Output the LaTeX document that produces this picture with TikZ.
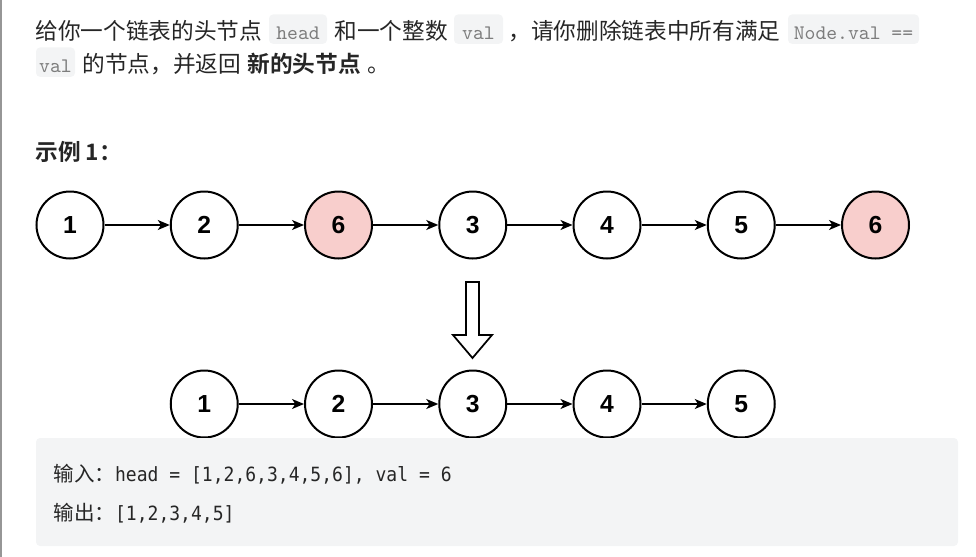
\documentclass[tikz,border=0pt]{standalone}
\usepackage{fontspec}
\setmonofont{DejaVu Sans Mono}[FakeStretch=0.92]
\setsansfont{Liberation Sans}
\newfontfamily\cjk{Noto Sans CJK SC}[BoldFont={Noto Sans CJK SC Bold}]
\newfontfamily\chipfont{lmmono10-regular.otf}
\usetikzlibrary{arrows.meta}

\definecolor{txtgray}{RGB}{38,38,38}
\definecolor{chipbg}{RGB}{243,244,245}
\definecolor{chiptxt}{RGB}{125,125,125}
\definecolor{nodered}{RGB}{248,206,204}
\definecolor{leftbar}{RGB}{150,150,150}

\tikzset{every picture/.style={line width=0.75pt}}
\tikzset{
  listnode/.style={circle, draw=black, line width=1.5pt, minimum size=50.25pt, inner sep=0pt, fill=white,
    font=\sffamily\bfseries\fontsize{18.5pt}{20pt}\selectfont},
  delnode/.style={listnode, fill=nodered},
  link/.style={-{Stealth[length=9pt,width=7.5pt,inset=2.5pt]}, line width=1.1pt},
  chip/.style={anchor=base, fill=chipbg, rounded corners=3pt, inner xsep=0pt, inner ysep=0pt,
    text height=18.4pt, text depth=3.6pt, text=chiptxt, font=\chipfont\fontsize{15.5pt}{17pt}\selectfont},
  para/.style={anchor=base west, inner sep=0pt, text=txtgray, font=\cjk\fontsize{17pt}{20pt}\selectfont},
  boxtxt/.style={anchor=base west, inner sep=0pt, text=txtgray, font=\ttfamily\fontsize{14.7pt}{16pt}\selectfont},
}
\newcommand{\boxcjk}[1]{{\cjk\fontsize{15.4pt}{16pt}\selectfont #1}}

\begin{document}
\begin{tikzpicture}[x=0.75pt,y=0.75pt,yscale=-1]
\useasboundingbox (0,0) rectangle (976,557);

%Straight Lines: left border
\draw [leftbar, line width=1.5pt] (1,0) -- (1,557);

% Text Node: first line
\node [para] (p1a) at (35,39) {给你一个链表的头节点};
\node [chip, minimum width=43.5pt] (c1) at (298,39) {head};
\node [para] (p1b) at (334,39) {和一个整数};
\node [chip, minimum width=36.75pt] (c2) at (478.5,39) {val};
\node [para] (p1c) at (508,39) {，请你删除链表中所有满足};
\node [chip, minimum width=98.25pt] (c3) at (853.5,39) {Node.val ==};

% Text Node: second line
\node [chip, minimum width=29.25pt] (c4) at (55.5,72) {val};
\node [para] (p2a) at (82,72) {的节点，并返回};
\node [para, font=\cjk\bfseries\fontsize{17pt}{20pt}\selectfont] (p2b) at (247,72) {新的头节点};
\node [para] (p2c) at (367,72) {。};

% Text Node: example title
\node [para, font=\cjk\bfseries\fontsize{17pt}{20pt}\selectfont] (title) at (35,160.5) {示例 1：};

%Shape: Circle, input list
\node [listnode] (a1) at (70,225) {1};
\node [listnode] (a2) at (204.25,225) {2};
\node [delnode]  (a3) at (338.5,225) {6};
\node [listnode] (a4) at (472.75,225) {3};
\node [listnode] (a5) at (607,225) {4};
\node [listnode] (a6) at (741.25,225) {5};
\node [delnode]  (a7) at (875.5,225) {6};

%Straight Lines: input links
\draw [link] (a1) -- (a2);
\draw [link] (a2) -- (a3);
\draw [link] (a3) -- (a4);
\draw [link] (a4) -- (a5);
\draw [link] (a5) -- (a6);
\draw [link] (a6) -- (a7);

%Shape: hollow down arrow
\draw [line width=1.3pt, line join=miter] (466,282) -- (479,282) -- (479,335) -- (492,335) -- (472.5,358) -- (453,335) -- (466,335) -- cycle;

%Shape: Circle, output list
\node [listnode] (b1) at (204.25,404) {1};
\node [listnode] (b2) at (338.5,404) {2};
\node [listnode] (b3) at (472.75,404) {3};
\node [listnode] (b4) at (607,404) {4};
\node [listnode] (b5) at (741.25,404) {5};

%Straight Lines: output links
\draw [link] (b1) -- (b2);
\draw [link] (b2) -- (b3);
\draw [link] (b3) -- (b4);
\draw [link] (b4) -- (b5);

%Shape: Rectangle, example box
\fill [chipbg, rounded corners=3pt] (36,438) rectangle (958,546);

% Text Node: box lines
\node [boxtxt] (in) at (53,481) {\boxcjk{输入：}head = [1,2,6,3,4,5,6], val = 6};
\node [boxtxt] (out) at (53,520) {\boxcjk{输出：}[1,2,3,4,5]};

\end{tikzpicture}
\end{document}
